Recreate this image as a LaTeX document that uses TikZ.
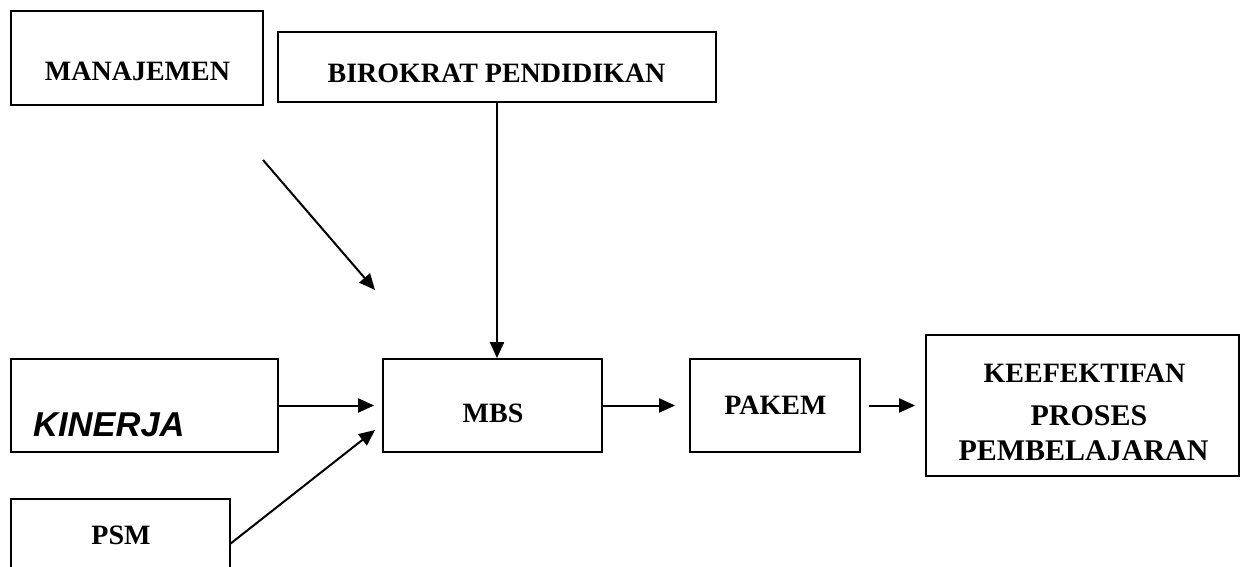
\documentclass[tikz,border=0pt]{standalone}
\usepackage{fontspec}
\setmainfont{Liberation Serif}
\setsansfont{Liberation Sans}
\usetikzlibrary{arrows.meta}
\begin{document}
\begin{tikzpicture}[x=1pt,y=-1pt,
  box/.style={draw,line width=1.8pt,inner sep=0pt},
  lbl/.style={anchor=base,inner sep=0pt,font=\bfseries\fontsize{28}{30}\selectfont},
  lblbig/.style={anchor=base,inner sep=0pt,font=\bfseries\fontsize{30}{32}\selectfont},
  conn/.style={line width=2pt,-{Triangle[length=16pt,width=14pt]}}]
\useasboundingbox (0,0) rectangle (1241,567);
\clip (0,0) rectangle (1241,567);
% boxes
\node[box,minimum width=252pt,minimum height=94pt] (man) at (137,58) {};
\node[box,minimum width=438pt,minimum height=70pt] (bir) at (497,67) {};
\node[box,minimum width=267pt,minimum height=93pt] (kin) at (144.5,405.5) {};
\node[box,minimum width=219pt,minimum height=93pt] (mbs) at (492.5,405.5) {};
\node[box,minimum width=219pt,minimum height=140pt] (psm) at (120.5,569) {};
\node[box,minimum width=170pt,minimum height=93pt] (pak) at (775,405.5) {};
\node[box,minimum width=313pt,minimum height=141pt] (kee) at (1082.5,405.5) {};
% texts
\node[lbl] (manT) at (137.5,81) {MANAJEMEN};
\node[lbl] (birT) at (496.5,83) {BIROKRAT PENDIDIKAN};
\node[anchor=base west,inner sep=0pt,font=\sffamily\bfseries\itshape\fontsize{34.5}{36}\selectfont] (kinT) at (33,436) {KINERJA};
\node[lbl] (mbsT) at (493,422) {MBS};
\node[lbl] (pakT) at (775.5,414) {PAKEM};
\node[lbl] (psmT) at (121,544) {PSM};
\node[lbl] (keeT1) at (1084.5,382) {KEEFEKTIFAN};
\node[lblbig] (keeT2) at (1089,425) {PROSES};
\node[lblbig] (keeT3) at (1083.5,460) {PEMBELAJARAN};
% free ends
\coordinate (d1) at (263,160);
\coordinate (d2) at (375,290);
\coordinate (p1) at (230,544);
\coordinate (p2) at (375,430);
% connectors
\draw[conn] (bir.south) -- (bir.south |- mbs.north);
\draw[conn] (d1) -- (d2);
\draw[conn,shorten >=8pt] (kin.east) -- (mbs.west);
\draw[conn] (p1) -- (p2);
\draw[conn,shorten >=14pt] (mbs.east) -- (pak.west);
\draw[conn,shorten <=8pt,shorten >=10pt] (pak.east) -- (kee.west);
\end{tikzpicture}
\end{document}
